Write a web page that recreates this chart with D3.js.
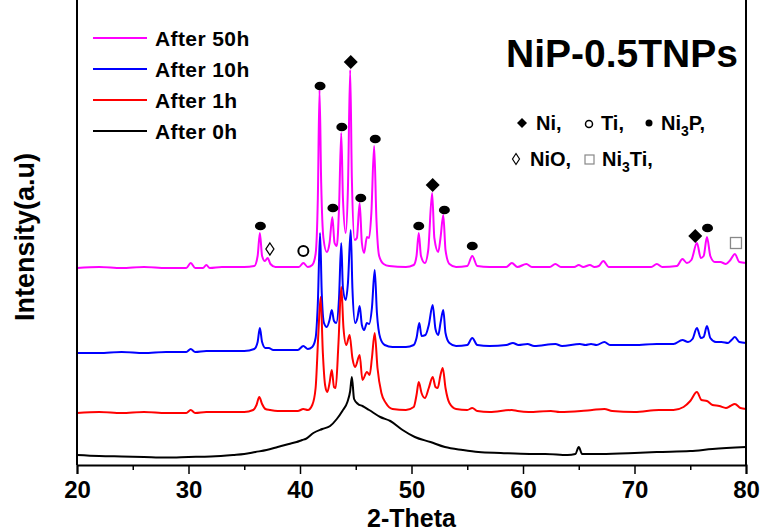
<!DOCTYPE html>
<html>
<head>
<meta charset="utf-8">
<script src="https://cdn.jsdelivr.net/npm/d3@7"></script>
<style>
  body { margin: 0; background: #fff; }
  svg text { font-family: "Liberation Sans", Arial, sans-serif; font-weight: bold; fill: #000; }
</style>
</head>
<body>
<div id="xrd-chart"></div>
<script>
// series, [2-theta, intensity above own baseline]
const seriesNames = ["After 0h", "After 1h", "After 10h", "After 50h"];
const offsets = [0, 52, 112, 197];

const after0h = [[20,10],[22,9],[24,8.5],[26,8],[28,7.5],[30,8],[32,8.5],[34,10],[35,11],[36,13],[37,15],[38,18],[39,21],[39.7,23],[40.2,25],[40.5,26],[41.2,32],[42,36],[42.7,39],[43.3,46],[43.8,54],[44.25,63],[44.5,74],[44.65,88],[44.85,66],[45.2,61],[45.6,59],[46.2,55],[47.2,48],[48.1,44],[49.2,35],[50.3,28],[51.7,23],[53,18],[54.6,15],[56,13],[58,12],[60.6,11],[62,11],[64,10],[64.7,11],[65.0,18],[65.3,11],[67,11],[70,12],[72,13],[75,14],[77,16],[80,18]];

const after1h = [[20,0],[22,1],[24,0],[26,1],[28,0],[29.8,0],[30.2,3],[30.6,0],[31.6,1],[33,1],[35,1],[35.8,3],[36.1,8],[36.35,16],[36.6,9],[36.9,4],[37.3,3],[38,2],[39.8,2],[40.3,4],[40.7,3],[41.1,8],[41.4,25],[41.65,80],[41.85,116],[42.05,60],[42.25,28],[42.45,21],[42.65,30],[42.85,43],[43.05,26],[43.2,25],[43.45,70],[43.7,126],[43.9,85],[44.15,68],[44.45,78],[44.7,55],[44.95,46],[45.35,58],[45.6,33],[46.0,41],[46.25,38],[46.45,55],[46.7,80],[46.95,45],[47.3,20],[47.7,10],[48.3,4],[49.5,3],[50.2,6],[50.45,18],[50.65,31],[50.9,20],[51.2,15],[51.55,25],[51.9,36],[52.15,26],[52.35,25],[52.6,38],[52.8,45],[53.05,25],[53.4,10],[54,4],[55.0,3],[55.45,5],[55.9,2],[57,1],[59.0,3],[59.5,2],[60.5,1],[62.5,2],[63.3,1],[65.2,2],[66.2,3],[67.3,4],[68,2],[70,1],[72.2,3],[73.5,3],[74.4,6],[75.0,12],[75.6,21],[76.0,13],[76.5,12],[77,8],[77.6,7],[78.2,5],[78.6,7],[79.0,9],[79.5,5],[80,4]];

const after10h = [[20,0],[22,0],[24,1],[26,0],[28,1],[29.8,1],[30.2,4],[30.6,1],[31.6,2],[33,2],[35,2],[35.9,4],[36.2,11],[36.4,25],[36.6,11],[36.9,5],[37.2,5],[37.6,3],[39.8,3],[40.3,7],[40.7,4],[41.1,6],[41.4,15],[41.6,50],[41.8,120],[41.95,60],[42.15,30],[42.4,26],[42.65,33],[42.85,43],[43.05,32],[43.25,30],[43.5,55],[43.7,110],[43.85,65],[44.1,53],[44.3,70],[44.55,123],[44.7,65],[44.95,30],[45.15,35],[45.35,47],[45.55,28],[45.75,23],[46.0,30],[46.2,29],[46.45,45],[46.7,83],[46.9,40],[47.2,15],[47.6,8],[48.3,6],[49.5,6],[50.2,8],[50.45,15],[50.7,30],[50.9,17],[51.25,18],[51.55,28],[51.9,48],[52.15,24],[52.4,18],[52.6,30],[52.85,43],[53.05,20],[53.4,10],[54,7],[55.0,8],[55.45,15],[55.9,8],[57,7],[58.5,8],[59.1,10],[59.6,8],[60.4,9],[61,7],[62.9,9],[63.5,7],[65.1,9],[65.6,8],[66.1,9],[66.6,8],[67.3,11],[67.8,8],[70,8],[72,9],[73.5,9],[74.3,13],[74.8,11],[75.2,14],[75.6,25],[75.95,15],[76.2,16],[76.5,27],[76.8,15],[77.3,11],[77.8,11],[78.4,10],[78.7,13],[79.0,16],[79.4,11],[80,10]];

const after50h = [[20,0],[22,1],[24,0],[26,1],[28,0],[29.8,0],[30.2,5],[30.6,0],[31.3,0],[31.6,3],[31.9,0],[33,1],[35,1],[35.9,2],[36.2,12],[36.4,35],[36.6,12],[36.85,7],[37.1,10],[37.35,4],[37.8,1],[39.9,1],[40.3,5],[40.7,1],[41.1,3],[41.4,14],[41.6,70],[41.75,178],[41.9,85],[42.1,30],[42.4,16],[42.65,25],[42.9,51],[43.1,25],[43.3,22],[43.5,60],[43.7,135],[43.85,70],[44.1,35],[44.3,80],[44.5,198],[44.65,90],[44.9,28],[45.1,30],[45.35,65],[45.55,25],[45.75,15],[46.0,31],[46.2,30],[46.4,55],[46.65,122],[46.85,50],[47.1,12],[47.5,4],[48,2],[49.5,1],[50.2,3],[50.45,12],[50.65,35],[50.85,12],[51.2,5],[51.5,18],[51.85,75],[52.05,30],[52.4,16],[52.6,30],[52.85,53],[53.05,18],[53.4,4],[54,1],[55.0,2],[55.45,12],[55.9,2],[57,1],[58.5,1],[59.0,5],[59.5,1],[60.3,4],[60.8,1],[62.4,1],[62.9,4],[63.4,1],[64.6,1],[65.0,3],[65.4,1],[66.0,3],[66.4,1],[66.8,2],[67.2,7],[67.7,1],[69,1],[71.5,1],[72.0,4],[72.5,1],[73.8,2],[74.3,9],[74.7,5],[75.1,8],[75.6,25],[75.95,10],[76.2,12],[76.5,31],[76.8,12],[77.2,6],[77.7,6],[78.2,4],[78.6,8],[79.0,14],[79.4,6],[80,5]];

const xMajorTicks = [20, 30, 40, 50, 60, 70, 80];
const xMinorTicks = [25, 35, 45, 55, 65, 75];

// phase markers, [2-theta, intensity]
const markNi = [[44.55, 403], [51.9, 280], [75.45, 229]];
const markNi3P = [[36.45, 239], [41.8, 379], [42.95, 257], [43.75, 338], [45.45, 267], [46.75, 326], [50.65, 239], [52.95, 255], [55.45, 219], [76.55, 237]];
const markTi = [[40.3, 214]];
const markNiO = [[37.3, 216]];
const markNi3Ti = [[79.1, 222]];

const colors = ["#000000", "#ff0000", "#0000ff", "#ff00ff"];
const allSeries = [after0h, after1h, after10h, after50h];

const margin = { top: 0, right: 18, bottom: 67, left: 77 },
  width = 764 - margin.left - margin.right,
  height = 532 - margin.top - margin.bottom;

const svg = d3
  .select("#xrd-chart")
  .append("svg")
  .attr("width", 764)
  .attr("height", 532)
  .append("g")
  .attr("transform", "translate(" + margin.left + "," + margin.top + ")");

//xScale
const xScale = d3.scaleLinear().domain([20, 80]).range([0, width]);
//yScale
const yScale = d3.scaleLinear().domain([0, height]).range([height, 0]);

// traces, 50h first so lower traces sit on top
const line = d3
  .line()
  .x(function (d) {
    return xScale(d[0]);
  })
  .curve(d3.curveMonotoneX);

[3, 2, 1, 0].forEach(function (i) {
  svg
    .append("path")
    .datum(allSeries[i])
    .attr(
      "d",
      line.y(function (d) {
        return yScale(d[1] + offsets[i]);
      })
    )
    .attr("fill", "none")
    .attr("stroke", colors[i])
    .attr("stroke-width", 2)
    .attr("stroke-linejoin", "round");
});

// axes
const xMajor = svg
  .append("g")
  .attr("transform", "translate(0," + height + ")")
  .call(d3.axisBottom(xScale).tickValues(xMajorTicks).tickSize(9).tickPadding(7).tickFormat(d3.format("d")));
xMajor.selectAll("text").style("font-size", "24px");
xMajor.select(".domain").attr("stroke-width", 2);
xMajor.selectAll(".tick line").attr("stroke-width", 1.5);

const xMinor = svg
  .append("g")
  .attr("transform", "translate(0," + height + ")")
  .call(d3.axisBottom(xScale).tickValues(xMinorTicks).tickSize(5).tickFormat(""));
xMinor.select(".domain").remove();
xMinor.selectAll(".tick line").attr("stroke-width", 1.5);

svg.append("line").attr("x1", 0).attr("x2", 0).attr("y1", 0).attr("y2", height).attr("stroke", "#000").attr("stroke-width", 2);
svg.append("line").attr("x1", width).attr("x2", width).attr("y1", 0).attr("y2", height).attr("stroke", "#000").attr("stroke-width", 2);

svg
  .append("text")
  .attr("x", width / 2)
  .attr("y", height + 62)
  .attr("text-anchor", "middle")
  .style("font-size", "25px")
  .text("2-Theta");

svg
  .append("text")
  .attr("transform", "translate(" + (34 - margin.left) + ",237) rotate(-90)")
  .attr("text-anchor", "middle")
  .style("font-size", "27px")
  .text("Intensity(a.u)");

// legend
const legend = svg.append("g").attr("transform", "translate(" + (93 - margin.left) + ",38)");
[3, 2, 1, 0].forEach(function (i, k) {
  legend.append("line").attr("x1", 0).attr("x2", 54).attr("y1", k * 31).attr("y2", k * 31)
    .attr("stroke", colors[i]).attr("stroke-width", 2);
  legend.append("text").attr("x", 62).attr("y", k * 31).attr("dy", "0.36em")
    .style("font-size", "21px").style("letter-spacing", "0.4px").text(seriesNames[i]);
});

// title
svg
  .append("text")
  .attr("x", 506 - margin.left)
  .attr("y", 67)
  .style("font-size", "39px")
  .text("NiP-0.5TNPs");

// phase markers
function px(d) { return xScale(d[0]); }
function py(d) { return yScale(d[1]); }

svg.selectAll(".m-ni3p").data(markNi3P).enter().append("ellipse")
  .attr("cx", px).attr("cy", py).attr("rx", 5.5).attr("ry", 4.3).attr("fill", "#000");
svg.selectAll(".m-ni").data(markNi).enter().append("path")
  .attr("transform", function (d) { return "translate(" + px(d) + "," + py(d) + ")"; })
  .attr("d", "M0,-7L7,0L0,7L-7,0Z").attr("fill", "#000");
svg.selectAll(".m-ti").data(markTi).enter().append("circle")
  .attr("cx", px).attr("cy", py).attr("r", 5).attr("fill", "none").attr("stroke", "#000").attr("stroke-width", 2);
svg.selectAll(".m-nio").data(markNiO).enter().append("path")
  .attr("transform", function (d) { return "translate(" + px(d) + "," + py(d) + ")"; })
  .attr("d", "M0,-6L4,0L0,6L-4,0Z").attr("fill", "none").attr("stroke", "#000").attr("stroke-width", 1.3);
svg.selectAll(".m-ni3ti").data(markNi3Ti).enter().append("rect")
  .attr("x", function (d) { return px(d) - 5.5; }).attr("y", function (d) { return py(d) - 5.5; })
  .attr("width", 11).attr("height", 11).attr("fill", "#fff").attr("stroke", "#888").attr("stroke-width", 1.3);

// phase key
const key = svg.append("g").attr("transform", "translate(" + (-margin.left) + ",0)");
key.append("path").attr("transform", "translate(522,123)").attr("d", "M0,-5L5,0L0,5L-5,0Z").attr("fill", "#000");
key.append("text").attr("x", 536).attr("y", 130).style("font-size", "20px").text("Ni,");
key.append("circle").attr("cx", 589).attr("cy", 124).attr("r", 3.5).attr("fill", "none").attr("stroke", "#000").attr("stroke-width", 1.5);
key.append("text").attr("x", 601).attr("y", 130).style("font-size", "20px").text("Ti,");
key.append("circle").attr("cx", 649).attr("cy", 123).attr("r", 3.5).attr("fill", "#000");
const ni3p = key.append("text").attr("x", 661).attr("y", 130).style("font-size", "20px");
ni3p.append("tspan").text("Ni");
ni3p.append("tspan").attr("dy", 6).style("font-size", "14px").text("3");
ni3p.append("tspan").attr("dy", -6).text("P,");

key.append("path").attr("transform", "translate(516,159)").attr("d", "M0,-5.5L3.5,0L0,5.5L-3.5,0Z").attr("fill", "none").attr("stroke", "#000").attr("stroke-width", 1.2);
key.append("text").attr("x", 530).attr("y", 166).style("font-size", "20px").text("NiO,");
key.append("rect").attr("x", 585).attr("y", 155).attr("width", 9).attr("height", 9).attr("fill", "#fff").attr("stroke", "#888").attr("stroke-width", 1.2);
const ni3ti = key.append("text").attr("x", 602).attr("y", 166).style("font-size", "20px");
ni3ti.append("tspan").text("Ni");
ni3ti.append("tspan").attr("dy", 6).style("font-size", "14px").text("3");
ni3ti.append("tspan").attr("dy", -6).text("Ti,");
</script>
</body>
</html>
